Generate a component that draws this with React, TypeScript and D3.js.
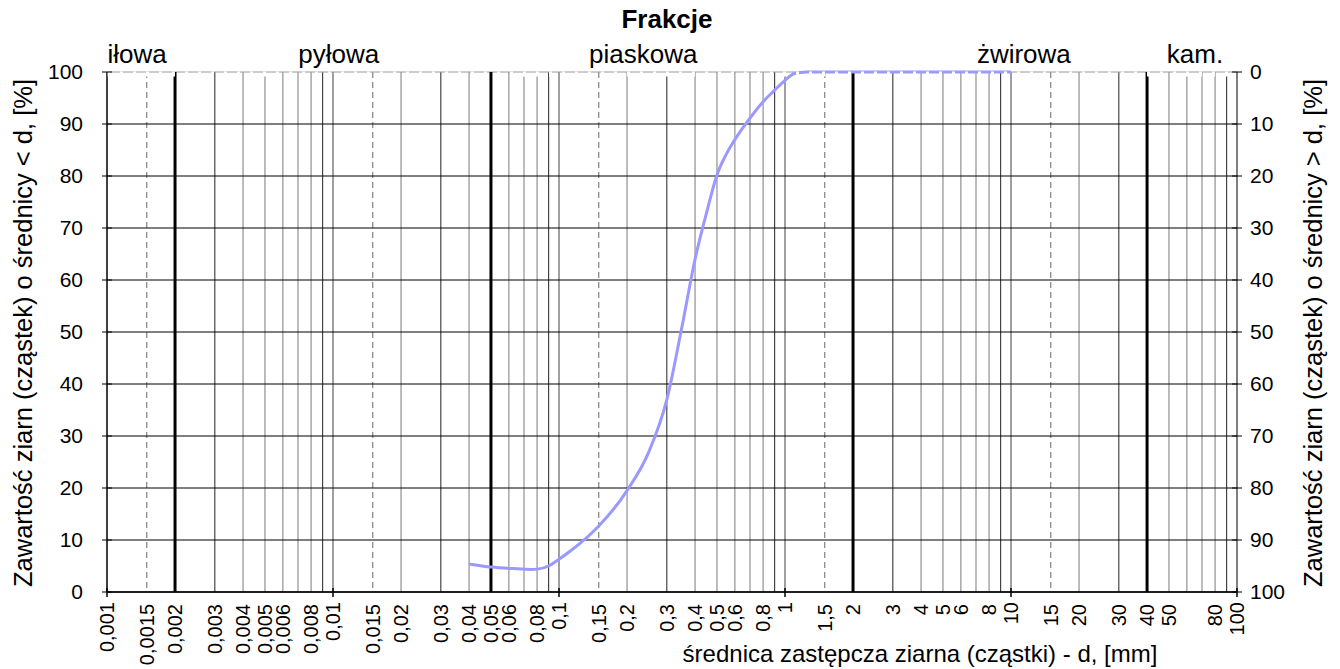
import React from "react";
import * as d3 from "d3";

// ---------- data ----------
const tickValues = [0.001, 0.0015, 0.002, 0.003, 0.004, 0.005, 0.006, 0.008, 0.01, 0.015, 0.02, 0.03, 0.04, 0.05, 0.06, 0.08, 0.1, 0.15, 0.2, 0.3, 0.4, 0.5, 0.6, 0.8, 1, 1.5, 2, 3, 4, 5, 6, 8, 10, 15, 20, 30, 40, 50, 80, 100];
const tickLabels = ["0,001", "0,0015", "0,002", "0,003", "0,004", "0,005", "0,006", "0,008", "0,01", "0,015", "0,02", "0,03", "0,04", "0,05", "0,06", "0,08", "0,1", "0,15", "0,2", "0,3", "0,4", "0,5", "0,6", "0,8", "1", "1,5", "2", "3", "4", "5", "6", "8", "10", "15", "20", "30", "40", "50", "80", "100"];
const decades = [0.001, 0.01, 0.1, 1, 10, 100];
const multipliers = [1, 2, 3, 4, 5, 6, 7, 8, 9];
const boundaries = [0.002, 0.05, 2, 40];
const fractionNames = ["iłowa", "pyłowa", "piaskowa", "żwirowa", "kam."];
const fractionPos = [0.00136, 0.0106, 0.236, 11.4, 65.2];
const yTicks = [0, 10, 20, 30, 40, 50, 60, 70, 80, 90, 100];

const grainD = [0.04, 0.05, 0.063, 0.075, 0.08, 0.09, 0.1, 0.11, 0.125, 0.15, 0.2, 0.25, 0.3, 0.35, 0.4, 0.45, 0.5, 0.55, 0.6, 0.68, 0.8, 0.9, 1.0, 1.1, 1.25, 2, 5, 10];
const passing = [5.4, 4.8, 4.5, 4.35, 4.4, 5.0, 6.3, 7.6, 9.5, 12.7, 19.5, 27, 37, 51, 64, 73, 80.2, 84.2, 87, 90.4, 94.3, 96.5, 98.4, 99.7, 100, 100, 100, 100];

const title = "Frakcje";
const xTitle = "średnica zastępcza ziarna (cząstki) - d, [mm]";
const yLeftTitle = "Zawartość ziarn (cząstek) o średnicy < d, [%]";
const yRightTitle = "Zawartość ziarn (cząstek) o średnicy > d, [%]";

// ---------- layout ----------
const W = 1340, H = 669;
const L = 107, R = 1237, T = 72, B = 592;
const FONT = "'Liberation Sans', Arial, sans-serif";

export default function App() {
  const x = d3.scaleLog().domain([0.001, 100]).range([L, R]);
  const y = d3.scaleLinear().domain([0, 100]).range([B, T]);
  const yR = d3.scaleLinear().domain([100, 0]).range([B, T]);

  const gridVals: { v: number; k: number }[] = [];
  decades.slice(0, -1).forEach((dec) => multipliers.forEach((k) => gridVals.push({ v: dec * k, k })));
  const halfVals = decades.slice(0, -1).map((dec) => dec * 1.5);

  const line = d3
    .line<number>()
    .x((_, i) => x(grainD[i]))
    .y((p) => y(p))
    .curve(d3.curveMonotoneX);

  const isBoundary = (v: number) => boundaries.some((b) => Math.abs(b - v) / b < 1e-6);

  return (
    <div style={{ position: "fixed", left: 0, top: 0 }}>
      <svg width={W} height={H} style={{ display: "block", background: "#fff" }} fontFamily={FONT}>
        {/* minor/major vertical grid */}
        {gridVals.filter((g) => !isBoundary(g.v)).map((g, i) => {
          let stroke = "#999";
          let sw = 1.3;
          if (g.k === 1) { stroke = "#888"; sw = 1.6; }
          if (g.k === 3 || g.k === 9) { stroke = "#222"; sw = 1; }
          if (g.v === 0.001) { stroke = "#000"; sw = 1; }
          return <line key={"g" + i} x1={x(g.v)} x2={x(g.v)} y1={T} y2={B} stroke={stroke} strokeWidth={sw} />;
        })}
        {halfVals.map((v, i) => (
          <line key={"h" + i} x1={x(v)} x2={x(v)} y1={T} y2={B} stroke="#666" strokeWidth={1} strokeDasharray="6,4" />
        ))}
        {/* horizontal grid */}
        {yTicks.map((t) => (
          <line key={"hy" + t} x1={L} x2={R} y1={y(t)} y2={y(t)} stroke={t === 100 ? "#999" : "#000"} strokeWidth={1} />
        ))}
        {/* fraction boundaries */}
        {boundaries.map((b) => (
          <line key={"b" + b} x1={x(b)} x2={x(b)} y1={T} y2={B} stroke="#000" strokeWidth={3} />
        ))}
        {/* right axis line */}
        <line x1={R} x2={R} y1={T} y2={B} stroke="#000" strokeWidth={1} />
        {/* curve */}
        <path d={line(passing) || ""} fill="none" stroke="#9999ff" strokeWidth={3} />
        {/* white dashed overlay at top */}
        <line x1={L} x2={R} y1={T + 2} y2={T + 2} stroke="#fff" strokeWidth={5} strokeDasharray="3,10" />
        {/* axes */}
        <line x1={L} x2={L} y1={T} y2={B} stroke="#000" strokeWidth={1} />
        <line x1={L} x2={R} y1={B} y2={B} stroke="#000" strokeWidth={1.5} />
        {yTicks.map((t) => (
          <g key={"yt" + t}>
            <line x1={L - 5} x2={L + 5} y1={y(t)} y2={y(t)} stroke="#000" />
            <line x1={R - 5} x2={R + 5} y1={y(t)} y2={y(t)} stroke="#000" />
            <text x={83} y={y(t)} dy="0.35em" textAnchor="end" fontSize={21}>{t}</text>
            <text x={1250} y={yR(t)} dy="0.35em" textAnchor="start" fontSize={21}>{t}</text>
          </g>
        ))}
        {decades.map((d) => (
          <line key={"xt" + d} x1={x(d)} x2={x(d)} y1={B - 4} y2={B + 5} stroke="#000" strokeWidth={1.5} />
        ))}
        {tickValues.map((v, i) => {
          const major = decades.includes(v);
          const yy = major ? 602 : 604;
          return (
            <text key={"xl" + i} transform={`translate(${x(v)},${yy}) rotate(-90)`} dy="0.35em" textAnchor="end" fontSize={20}>
              {tickLabels[i]}
            </text>
          );
        })}
        {/* titles */}
        <text x={667} y={28} textAnchor="middle" fontSize={26} fontWeight="bold">{title}</text>
        {fractionNames.map((n, i) => (
          <text key={n} x={x(fractionPos[i])} y={63} textAnchor="middle" fontSize={26}>{n}</text>
        ))}
        <text x={920} y={662} textAnchor="middle" fontSize={24}>{xTitle}</text>
        <text transform={`translate(32,333) rotate(-90)`} textAnchor="middle" fontSize={25.5}>{yLeftTitle}</text>
        <text transform={`translate(1322,333) rotate(-90)`} textAnchor="middle" fontSize={25.5}>{yRightTitle}</text>
      </svg>
    </div>
  );
}
